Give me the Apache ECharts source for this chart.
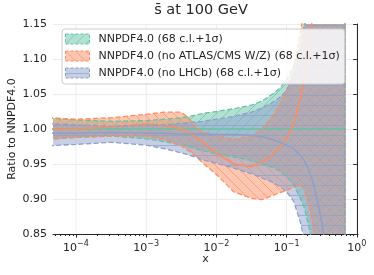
<!DOCTYPE html>
<html><head><meta charset="utf-8">
<script src="https://cdn.jsdelivr.net/npm/echarts@6/dist/echarts.min.js"></script>
<style>html,body{margin:0;padding:0;background:#fff}#c{width:374px;height:275px}</style>
</head><body><div id="c"></div>
<script>
// ---- data ----
const xValues = [4e-5, 1e-4, 3.16e-4, 1e-3, 1.78e-3, 3.16e-3, 3.98e-3, 5.01e-3, 6.31e-3, 1e-2, 1.78e-2, 3.16e-2, 4.47e-2, 6.31e-2, 7.94e-2, 0.1, 0.126, 0.158, 0.178, 0.2, 0.224, 0.251, 0.316, 0.398, 0.68];

const greenCentral = [1.0, 1.0, 1.0, 1.0, 1.0, 1.0, 1.0, 1.0, 1.0, 1.0, 1.0, 1.0, 1.0, 1.0, 1.0, 1.0, 1.0, 1.0, 1.0, 1.0, 1.0, 1.0, 1.0, 1.0, 1.0];
const greenUpper = [1.016, 1.013, 1.011, 1.012, 1.014, 1.016, 1.018, 1.02, 1.022, 1.025, 1.029, 1.034, 1.04, 1.05, 1.058, 1.07, 1.09, 1.12, 1.15, 1.18, 1.22, 1.26, 1.32, 1.38, 1.45];
const greenLower = [0.985, 0.988, 0.99, 0.986, 0.982, 0.977, 0.975, 0.972, 0.969, 0.965, 0.96, 0.955, 0.95, 0.945, 0.94, 0.932, 0.92, 0.9, 0.888, 0.868, 0.845, 0.82, 0.79, 0.75, 0.7];

const orangeCentral = [0.999, 1.0, 1.003, 1.007, 1.005, 1.0, 0.995, 0.988, 0.982, 0.965, 0.95, 0.946, 0.953, 0.963, 0.974, 0.987, 1.007, 1.045, 1.075, 1.11, 1.145, 1.18, 1.24, 1.3, 1.35];
const orangeUpper = [1.016, 1.014, 1.016, 1.021, 1.024, 1.024, 1.016, 1.003, 0.996, 0.991, 0.985, 0.99, 1.0, 1.018, 1.035, 1.055, 1.085, 1.14, 1.17, 1.2, 1.24, 1.28, 1.34, 1.4, 1.45];
const orangeLower = [0.986, 0.988, 0.99, 0.99, 0.985, 0.976, 0.969, 0.962, 0.952, 0.935, 0.91, 0.901, 0.899, 0.905, 0.909, 0.912, 0.917, 0.92, 0.914, 0.897, 0.875, 0.845, 0.79, 0.74, 0.7];

const blueCentral = [0.994, 0.994, 0.995, 0.994, 0.994, 0.993, 0.993, 0.993, 0.993, 0.992, 0.992, 0.991, 0.989, 0.985, 0.981, 0.977, 0.972, 0.962, 0.955, 0.945, 0.932, 0.915, 0.868, 0.8, 0.7];
const blueUpper = [1.008, 1.006, 1.004, 1.005, 1.006, 1.008, 1.009, 1.01, 1.011, 1.014, 1.018, 1.024, 1.03, 1.038, 1.045, 1.055, 1.075, 1.11, 1.14, 1.17, 1.2, 1.24, 1.3, 1.36, 1.42];
const blueLower = [0.976, 0.978, 0.981, 0.977, 0.972, 0.966, 0.963, 0.96, 0.956, 0.951, 0.944, 0.936, 0.93, 0.924, 0.918, 0.91, 0.897, 0.866, 0.842, 0.82, 0.8, 0.78, 0.75, 0.72, 0.7];

const seriesLabels = ['NNPDF4.0 (68 c.l.+1σ)', 'NNPDF4.0 (no ATLAS/CMS W/Z) (68 c.l.+1σ)', 'NNPDF4.0 (no LHCb) (68 c.l.+1σ)'];
const xTickValues = [1e-4, 1e-3, 1e-2, 1e-1, 1];
const xTickExponents = ['−4', '−3', '−2', '−1', '0'];
const yTickLabels = ['0.85', '0.90', '0.95', '1.00', '1.05', '1.10', '1.15'];
const titleText = 's\u0304 at 100 GeV';
const xName = 'x';
const yName = 'Ratio to NNPDF4.0';
const xMin = 4.7e-5, xMax = 1.04;

// ---- log-x helpers (x axis is a value axis in log10 units) ----
const L = Math.log10;
const xl = xValues.map(L);
const majorLog = xTickValues.map(L);
const minorLog = [];
for (let e = -5; e <= -1; e++) for (let m = 2; m <= 9; m++) { const v = m * Math.pow(10, e); if (v > xMin) minorLog.push(L(v)); }

// ---- styling ----
const FONT = 'DejaVu Sans';
const TXT = '#262626';
function hatch(rgb, fillA, lineA, kind) {
  const c = document.createElement('canvas'); c.width = 10; c.height = 10;
  const g = c.getContext('2d');
  g.fillStyle = 'rgba(' + rgb + ',' + fillA + ')'; g.fillRect(0, 0, 10, 10);
  g.strokeStyle = 'rgba(' + rgb + ',' + lineA + ')'; g.lineWidth = 1;
  g.beginPath();
  if (kind === '/') { g.moveTo(-1, 11); g.lineTo(11, -1); g.moveTo(-1, 1); g.lineTo(1, -1); g.moveTo(9, 11); g.lineTo(11, 9); }
  else if (kind === '\\') { g.moveTo(-1, -1); g.lineTo(11, 11); g.moveTo(9, -1); g.lineTo(11, 1); g.moveTo(-1, 9); g.lineTo(1, 11); }
  else { g.moveTo(0, 5.5); g.lineTo(10, 5.5); }
  g.stroke();
  return { image: c, repeat: 'repeat' };
}
const bands = [
  { label: seriesLabels[0], color: '#66c2a5', rgb: '102,194,165', kind: '/', lo: greenLower, hi: greenUpper, mid: greenCentral },
  { label: seriesLabels[1], color: '#fc8d62', rgb: '252,141,98', kind: '\\', lo: orangeLower, hi: orangeUpper, mid: orangeCentral },
  { label: seriesLabels[2], color: '#8da0cb', rgb: '141,160,203', kind: '-', lo: blueLower, hi: blueUpper, mid: blueCentral }
];

const series = [];
// vertical grid lines at decades (behind everything)
series.push({
  type: 'custom', name: 'xgrid', silent: true, z: 0,
  data: majorLog.map(function (v) { return [v]; }), encode: { x: 0 },
  renderItem: function (params, api) {
    const cs = params.coordSys;
    const px = api.coord([api.value(0), 1.0])[0];
    return { type: 'line', shape: { x1: px, y1: cs.y, x2: px, y2: cs.y + cs.height }, style: { stroke: '#ececec', lineWidth: 1 } };
  }
});
bands.forEach(function (b, k) {
  const pat = hatch(b.rgb, 0.5, 0.7, b.kind);
  b.legendPat = hatch(b.rgb, 0.5, 0.7, b.kind);
  series.push({
    type: 'custom', name: b.label, z: 2 + k * 0.1,
    data: xl.map(function (x, i) { return [x, b.lo[i], b.hi[i]]; }),
    encode: { x: 0, y: [1, 2] },
    renderItem: function (params, api) {
      if (params.dataIndex !== 0) return null;
      const pts = [];
      for (let i = 0; i < xl.length; i++) pts.push(api.coord([xl[i], b.hi[i]]));
      for (let i = xl.length - 1; i >= 0; i--) pts.push(api.coord([xl[i], b.lo[i]]));
      const cs = params.coordSys;
      return {
        type: 'group',
        clipPath: { type: 'rect', shape: { x: cs.x, y: cs.y, width: cs.width, height: cs.height } },
        children: [{ type: 'polygon', shape: { points: pts }, style: { fill: pat, stroke: null } }]
      };
    }
  });
});
bands.forEach(function (b) {
  const outline = xl.map(function (x, i) { return [x, b.hi[i]]; })
    .concat(xl.map(function (x, i) { return [x, b.lo[i]]; }).reverse());
  series.push({
    type: 'line', name: b.label + ' edge', data: outline, symbol: 'none', silent: true, z: 3,
    lineStyle: { color: b.color, width: 1.3, type: [5, 2.5] }
  });
  series.push({
    type: 'line', name: b.label + ' central', data: xl.map(function (x, i) { return [x, b.mid[i]]; }),
    symbol: 'none', silent: true, z: 3, lineStyle: { color: b.color, width: 1.5 }
  });
});

const chart = echarts.init(document.getElementById('c'), null, { renderer: 'canvas' });
chart.setOption({
  animation: false,
  backgroundColor: '#fff',
  grid: { left: 53, right: 16, top: 24, bottom: 41, containLabel: false, outerBoundsMode: 'none' },
  graphic: [{ type: 'text', x: 201, y: 3, z: 10, style: { text: titleText, textAlign: 'center', fill: TXT, font: '14.5px "DejaVu Sans"' } }],
  legend: {
    data: bands.map(function (b) {
      return { name: b.label, icon: 'rect', itemStyle: { color: b.legendPat, borderColor: b.color, borderWidth: 1, borderType: [3, 2] } };
    }),
    orient: 'vertical', left: 62, top: 29, itemWidth: 24, itemHeight: 10, itemGap: 5, z: 10,
    selectedMode: false,
    backgroundColor: 'rgba(255,255,255,0.8)', borderColor: '#cccccc', borderWidth: 1, borderRadius: 3,
    padding: [4, 5, 5, 3],
    textStyle: { fontFamily: FONT, fontSize: 11, color: TXT, padding: [0, 0, 0, 4], lineHeight: 12 }
  },
  xAxis: [{
    type: 'value', min: L(xMin), max: L(xMax),
    name: xName, nameLocation: 'middle', nameGap: 20, nameMoveOverlap: false,
    nameTextStyle: { fontFamily: FONT, fontSize: 11, color: TXT },
    axisLine: { show: true, lineStyle: { color: TXT, width: 1 } },
    axisTick: { show: true, customValues: majorLog, length: 3.5, lineStyle: { color: TXT } },
    axisLabel: {
      customValues: majorLog, margin: 6, color: TXT,
      formatter: function (v) { const i = majorLog.findIndex(function (t) { return Math.abs(t - v) < 1e-6; }); return '{b|10}{s|' + xTickExponents[i] + '}'; },
      rich: {
        b: { fontFamily: FONT, fontSize: 11, color: TXT, lineHeight: 14, verticalAlign: 'bottom' },
        s: { fontFamily: FONT, fontSize: 8, color: TXT, lineHeight: 9, verticalAlign: 'top' }
      }
    },
    splitLine: { show: false }
  }, {
    type: 'value', min: L(xMin), max: L(xMax), position: 'bottom',
    axisLine: { show: false },
    axisTick: { show: true, customValues: minorLog, length: 2, lineStyle: { color: TXT } },
    axisLabel: { show: false },
    splitLine: { show: false }
  }],
  yAxis: {
    type: 'value', min: 0.85, max: 1.15, interval: 0.05,
    name: yName, nameLocation: 'middle', nameGap: 35, nameMoveOverlap: false,
    nameTextStyle: { fontFamily: FONT, fontSize: 11, color: TXT },
    axisLine: { show: true, lineStyle: { color: TXT, width: 1 } },
    axisTick: { show: true, length: 3.5, lineStyle: { color: TXT } },
    axisLabel: { fontFamily: FONT, fontSize: 11, color: TXT, margin: 6,
      formatter: function (v) { const i = Math.round((v - 0.85) / 0.05); return yTickLabels[i]; } },
    splitLine: { show: true, lineStyle: { color: '#ececec', width: 1 } }
  },
  series: series
});
</script>
</body></html>
